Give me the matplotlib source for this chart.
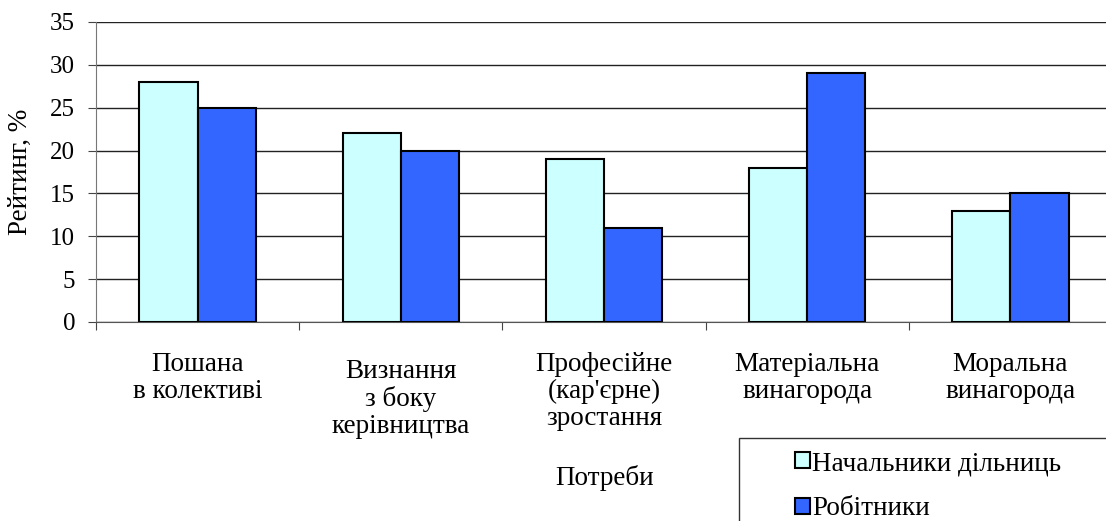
import numpy as np
import matplotlib
matplotlib.use("Agg")
import matplotlib.pyplot as plt
from matplotlib.patches import Patch, Rectangle

# дані
categories = ["Пошана\nв колективі", "Визнання\nз боку\nкерівництва",
              "Професійне\n(кар'єрне)\nзростання", "Матеріальна\nвинагорода",
              "Моральна\nвинагорода"]
chiefs = [28, 22, 19, 18, 13]    # Начальники дільниць
workers = [25, 20, 11, 29, 15]   # Робітники
series_names = ["Начальники дільниць", "Робітники"]
y_ticks = [0, 5, 10, 15, 20, 25, 30, 35]

plt.rcParams['font.family'] = ['Liberation Serif', 'DejaVu Serif']
plt.rcParams['font.size'] = 19.5

W, H = 1106, 521
fig = plt.figure(figsize=(W / 100, H / 100), dpi=100)
# вісь виходить трохи за правий край, як на оригіналі
ax = fig.add_axes([96 / W, 1 - 322 / H, (1112 - 96) / W, 300 / H])

x = np.arange(len(categories))
bw = 0.286
ax.bar(x - bw / 2, chiefs, bw, color='#CCFFFF', edgecolor='black', linewidth=1.5, zorder=3)
ax.bar(x + bw / 2, workers, bw, color='#3366FF', edgecolor='black', linewidth=1.5, zorder=3)

ax.set_xlim(-0.5, len(categories) - 0.5)
ax.set_ylim(0, 35)
ax.set_yticks(y_ticks)
ax.yaxis.grid(True, color='#222222', linewidth=1, zorder=0)
ax.set_axisbelow(True)

# поділки між категоріями, підписи окремо
ax.set_xticks(np.arange(len(categories) + 1) - 0.5)
ax.set_xticklabels([])
ax.tick_params(axis='x', direction='out', length=6, color='#444444')
ax.tick_params(axis='y', direction='out', length=6, color='#444444', pad=9, labelsize=18)

for s in ['top', 'right']:
    ax.spines[s].set_visible(False)
ax.spines['left'].set_color('#777777')
ax.spines['bottom'].set_color('#555555')

# підписи категорій (другий трохи нижче, як на оригіналі)
label_drop = [30, 37, 30, 30, 30]
for i, lab in enumerate(categories):
    ax.annotate(lab, xy=(x[i], 0), xycoords=('data', 'axes fraction'),
                xytext=(0, -label_drop[i] * 0.72), textcoords='offset points',
                ha='center', va='top', linespacing=1.1)

fig.text(605 / W, 1 - 478 / H, "Потреби", ha='center', va='center')
fig.text(20 / W, 1 - 172 / H, "Рейтинг, %", ha='center', va='center', rotation=90)

# рамка легенди, обрізана краєм
fig.patches.append(Rectangle((739 / W, -0.05), 0.5, 1 - 438 / H + 0.05,
                             transform=fig.transFigure, fill=False,
                             edgecolor='#333333', linewidth=1))
handles = [Patch(facecolor='#CCFFFF', edgecolor='black', linewidth=1.5),
           Patch(facecolor='#3366FF', edgecolor='black', linewidth=1.5)]
fig.legend(handles, series_names, loc='upper left',
           bbox_to_anchor=(795 / W, 1 - 451 / H), frameon=False, borderpad=0,
           borderaxespad=0, handlelength=0.54, handleheight=0.54,
           handletextpad=0.1, labelspacing=0.75)

fig.savefig("out.png", dpi=100)
